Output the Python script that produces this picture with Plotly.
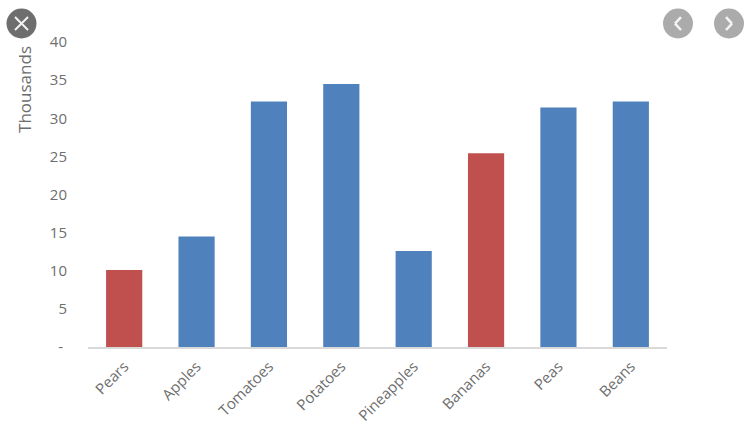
import plotly.graph_objects as go

categories = ["Pears", "Apples", "Tomatoes", "Potatoes", "Pineapples", "Bananas", "Peas", "Beans"]
values = [10.1, 14.5, 32.2, 34.5, 12.6, 25.4, 31.4, 32.2]
bar_colors = ["#C0504D", "#4F81BD", "#4F81BD", "#4F81BD", "#4F81BD", "#C0504D", "#4F81BD", "#4F81BD"]
y_ticks = [0, 5, 10, 15, 20, 25, 30, 35, 40]
y_labels = ["-\u00a0", "5", "10", "15", "20", "25", "30", "35", "40"]

W, H = 749, 429
L, R, T, B = 88, 667, 42, 347.5
FONT = "Open Sans"
TXT = "#6e6e6e"

def px(x):
    return (x - L) / (R - L)

def py(y):
    return (B - y) / (B - T)

def circle(cx, cy, r, color):
    return dict(type="circle", xref="paper", yref="paper", x0=px(cx - r), x1=px(cx + r),
                y0=py(cy + r), y1=py(cy - r), fillcolor=color, line=dict(width=0), layer="above")

def stroke(x0, y0, x1, y1, width=2):
    return dict(type="line", xref="paper", yref="paper", x0=px(x0), x1=px(x1), y0=py(y0), y1=py(y1),
                line=dict(color="#f4f4f4", width=width), layer="above")

shapes = [
    circle(21.5, 23.5, 15, "#6e6e6e"), stroke(15, 17, 28, 30), stroke(28, 17, 15, 30),
    circle(678, 23.5, 15, "#ababab"), stroke(681, 17, 675, 23.5, 2.5), stroke(675, 23.5, 681, 30, 2.5),
    circle(729, 23.5, 15, "#ababab"), stroke(726, 17, 732, 23.5, 2.5), stroke(732, 23.5, 726, 30, 2.5),
]

fig = go.Figure(go.Bar(x=categories, y=values, marker=dict(color=bar_colors, line=dict(width=0)), width=0.5))
fig.update_layout(
    width=W, height=H, autosize=False,
    margin=dict(l=L, r=W - R, t=T, b=H - B, pad=0),
    paper_bgcolor="white", plot_bgcolor="white",
    font=dict(family=FONT, size=16, color=TXT),
    showlegend=False,
    shapes=shapes,
    annotations=[dict(text="Thousands", xref="paper", yref="paper", x=px(25), y=py(90),
                      xanchor="center", yanchor="middle",
                      textangle=-90, showarrow=False, font=dict(family=FONT, size=17, color=TXT))],
    xaxis=dict(showgrid=False, showline=True, linecolor="#d9d9d9", linewidth=2, ticks="", automargin=False,
               tickangle=-45, ticklabelstandoff=3, tickfont=dict(family=FONT, size=15, color=TXT)),
    yaxis=dict(range=[0, 40], tickvals=y_ticks, ticktext=y_labels, showgrid=False, zeroline=False, automargin=False,
               showline=False, ticks="", ticklabelstandoff=20, tickfont=dict(family=FONT, size=15, color=TXT)),
)
fig.write_html("out.html", post_script="document.body.style.margin='0';", config={"displayModeBar": False})
